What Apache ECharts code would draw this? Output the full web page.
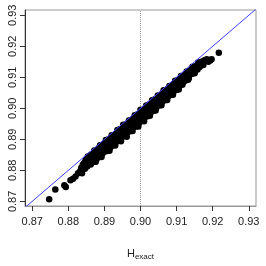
<!DOCTYPE html>
<html><head><meta charset="utf-8">
<script src="https://cdn.jsdelivr.net/npm/echarts@6/dist/echarts.min.js"></script>
<style>html,body{margin:0;padding:0;background:#fff}#c{width:266px;height:266px}</style>
</head><body><div id="c"></div>
<script>
const xRange = [0.868, 0.932];
const yRange = [0.8685, 0.9317];
const xTicks = [0.87, 0.88, 0.89, 0.90, 0.91, 0.92, 0.93];
const yTicks = [0.87, 0.88, 0.89, 0.90, 0.91, 0.92, 0.93];
const refX = 0.90;
const diag = [[0.868, 0.868], [0.932, 0.932]];
const points = [
[0.8747,0.8707],[0.8764,0.8738],[0.8789,0.8752],[0.8793,0.8746],[0.8806,0.8768],[0.8813,0.8773],[0.8820,0.8780],[0.8827,0.8791],[0.8833,0.8798],[0.8836,0.8808],
[0.8840,0.8818],[0.8843,0.8809],[0.8838,0.8791],
[0.8848,0.8833],[0.8851,0.8822],[0.8846,0.8805],
[0.8856,0.8832],[0.8859,0.8822],[0.8854,0.8845],
[0.8864,0.8851],[0.8866,0.8838],[0.8862,0.8819],
[0.8872,0.8864],[0.8874,0.8853],[0.8870,0.8835],[0.8876,0.8828],
[0.8880,0.8864],[0.8883,0.8853],[0.8878,0.8836],
[0.8888,0.8881],[0.8890,0.8868],[0.8886,0.8850],[0.8892,0.8843],
[0.8896,0.8883],[0.8899,0.8872],[0.8894,0.8853],
[0.8904,0.8898],[0.8906,0.8887],[0.8902,0.8869],[0.8908,0.8862],
[0.8912,0.8900],[0.8915,0.8890],[0.8910,0.8871],[0.8914,0.8863],
[0.8920,0.8913],[0.8922,0.8904],[0.8918,0.8887],[0.8924,0.8880],
[0.8928,0.8914],[0.8931,0.8905],[0.8926,0.8888],[0.8930,0.8880],
[0.8936,0.8930],[0.8938,0.8918],[0.8934,0.8901],[0.8940,0.8895],
[0.8944,0.8933],[0.8947,0.8923],[0.8942,0.8905],[0.8946,0.8894],
[0.8952,0.8947],[0.8954,0.8937],[0.8950,0.8920],[0.8956,0.8913],
[0.8960,0.8948],[0.8963,0.8937],[0.8958,0.8918],[0.8962,0.8908],
[0.8968,0.8961],[0.8970,0.8951],[0.8966,0.8934],[0.8972,0.8926],
[0.8976,0.8963],[0.8979,0.8954],[0.8974,0.8936],[0.8978,0.8927],
[0.8984,0.8978],[0.8986,0.8966],[0.8982,0.8948],[0.8988,0.8941],
[0.8992,0.8981],[0.8995,0.8968],[0.8990,0.8950],[0.8994,0.8941],
[0.9000,0.8995],[0.9002,0.8984],[0.8998,0.8967],[0.9004,0.8959],
[0.9008,0.8995],[0.9011,0.8986],[0.9006,0.8967],[0.9010,0.8958],
[0.9016,0.9009],[0.9018,0.8999],[0.9014,0.8981],[0.9020,0.8974],
[0.9024,0.9012],[0.9027,0.9001],[0.9022,0.8984],[0.9026,0.8976],
[0.9032,0.9026],[0.9034,0.9014],[0.9030,0.8998],[0.9036,0.8992],
[0.9040,0.9029],[0.9043,0.9019],[0.9038,0.9001],[0.9042,0.8993],
[0.9048,0.9041],[0.9050,0.9032],[0.9046,0.9015],[0.9052,0.9009],
[0.9056,0.9043],[0.9059,0.9034],[0.9054,0.9017],[0.9058,0.9010],
[0.9064,0.9058],[0.9066,0.9047],[0.9062,0.9031],[0.9068,0.9026],
[0.9072,0.9060],[0.9075,0.9051],[0.9070,0.9034],[0.9074,0.9027],
[0.9080,0.9072],[0.9082,0.9063],[0.9078,0.9048],[0.9084,0.9043],
[0.9088,0.9074],[0.9091,0.9066],[0.9086,0.9050],[0.9090,0.9044],
[0.9096,0.9089],[0.9098,0.9079],[0.9094,0.9064],[0.9100,0.9060],
[0.9104,0.9091],[0.9107,0.9083],[0.9102,0.9067],[0.9106,0.9061],
[0.9112,0.9104],[0.9114,0.9095],[0.9110,0.9081],[0.9116,0.9076],
[0.9120,0.9106],[0.9123,0.9098],[0.9118,0.9083],
[0.9128,0.9119],[0.9130,0.9110],[0.9126,0.9095],[0.9132,0.9092],
[0.9136,0.9121],[0.9139,0.9113],[0.9134,0.9098],
[0.9144,0.9134],[0.9146,0.9125],[0.9142,0.9111],
[0.9152,0.9136],[0.9155,0.9128],[0.9150,0.9113],
[0.9160,0.9148],[0.9162,0.9139],[0.9158,0.9125],
[0.9168,0.9150],[0.9171,0.9142],
[0.9176,0.9154],[0.9174,0.9140],
[0.9184,0.9158],[0.9188,0.9150],[0.9193,0.9154],[0.9197,0.9158],[0.9217,0.9179]
];
const pointsB = [
[0.8844,0.8824],[0.8844,0.8812],
[0.8852,0.8838],[0.8852,0.8824],[0.8852,0.8812],
[0.8860,0.8848],[0.8860,0.8834],[0.8860,0.8822],
[0.8868,0.8853],[0.8868,0.8841],[0.8868,0.8827],
[0.8876,0.8864],[0.8876,0.8850],[0.8876,0.8837],
[0.8884,0.8871],[0.8884,0.8857],[0.8884,0.8842],
[0.8892,0.8880],[0.8892,0.8864],[0.8892,0.8852],
[0.8900,0.8887],[0.8900,0.8875],[0.8900,0.8860],
[0.8908,0.8897],[0.8908,0.8881],[0.8908,0.8868],
[0.8916,0.8903],[0.8916,0.8890],[0.8916,0.8873],
[0.8924,0.8912],[0.8924,0.8899],[0.8924,0.8885],
[0.8932,0.8919],[0.8932,0.8905],[0.8932,0.8891],
[0.8940,0.8928],[0.8940,0.8914],[0.8940,0.8900],
[0.8948,0.8934],[0.8948,0.8920],[0.8948,0.8905],
[0.8956,0.8945],[0.8956,0.8931],[0.8956,0.8918],
[0.8964,0.8951],[0.8964,0.8937],[0.8964,0.8923],
[0.8972,0.8960],[0.8972,0.8946],[0.8972,0.8932],
[0.8980,0.8967],[0.8980,0.8953],[0.8980,0.8939],
[0.8988,0.8976],[0.8988,0.8963],[0.8988,0.8949],
[0.8996,0.8982],[0.8996,0.8968],[0.8996,0.8953],
[0.9004,0.8993],[0.9004,0.8978],[0.9004,0.8964],
[0.9012,0.8999],[0.9012,0.8985],[0.9012,0.8971],
[0.9020,0.9008],[0.9020,0.8995],[0.9020,0.8981],
[0.9028,0.9015],[0.9028,0.9001],[0.9028,0.8986],
[0.9036,0.9024],[0.9036,0.9010],[0.9036,0.8996],
[0.9044,0.9031],[0.9044,0.9017],[0.9044,0.9003],
[0.9052,0.9040],[0.9052,0.9027],[0.9052,0.9014],
[0.9060,0.9047],[0.9060,0.9034],[0.9060,0.9020],
[0.9068,0.9056],[0.9068,0.9043],[0.9068,0.9031],
[0.9076,0.9063],[0.9076,0.9050],[0.9076,0.9037],
[0.9084,0.9072],[0.9084,0.9060],[0.9084,0.9048],
[0.9092,0.9079],[0.9092,0.9067],[0.9092,0.9054],
[0.9100,0.9088],[0.9100,0.9076],[0.9100,0.9065],
[0.9108,0.9095],[0.9108,0.9083],[0.9108,0.9072],
[0.9116,0.9102],[0.9116,0.9090],
[0.9124,0.9111],[0.9124,0.9100],[0.9124,0.9089],
[0.9132,0.9118],[0.9132,0.9106],
[0.9140,0.9124],[0.9140,0.9113],
[0.9148,0.9132],[0.9148,0.9120],
[0.9156,0.9138],[0.9156,0.9126],
[0.9164,0.9144],[0.9164,0.9133],
[0.9180,0.9156]
];

const FONT = '"Liberation Sans", Arial, sans-serif';
const chart = echarts.init(document.getElementById('c'), null, {renderer: 'canvas'});
chart.setOption({
  animation: false,
  grid: {left: 25, top: 10, width: 231, height: 213, show: true, borderColor: '#999', borderWidth: 1, backgroundColor: 'transparent'},
  xAxis: {
    type: 'value', min: xRange[0], max: xRange[1],
    splitLine: {show: false},
    axisLine: {show: true, onZero: false, lineStyle: {color: '#999', width: 1}},
    axisTick: {show: true, inside: false, length: 5, customValues: xTicks, lineStyle: {color: '#333'}},
    axisLabel: {customValues: xTicks, margin: 10, fontSize: 11, color: '#222', fontFamily: FONT,
      formatter: v => v.toFixed(2)},
    name: 'H{sub|exact}', nameLocation: 'middle', nameGap: 40,
    nameTextStyle: {fontSize: 11, color: '#222', fontFamily: FONT,
      rich: {sub: {fontSize: 8, color: '#222', fontFamily: FONT, padding: [7, 0, 0, 0]}}}
  },
  yAxis: {
    type: 'value', min: yRange[0], max: yRange[1],
    splitLine: {show: false},
    axisLine: {show: true, onZero: false, lineStyle: {color: '#333', width: 1}},
    axisTick: {show: true, inside: false, length: 5, customValues: yTicks, lineStyle: {color: '#333'}},
    axisLabel: {customValues: yTicks, margin: 7, rotate: 90, fontSize: 11, color: '#222', fontFamily: FONT,
      formatter: v => v.toFixed(2)}
  },
  series: [
    {
      type: 'line', data: [], z: 1,
      markLine: {silent: true, symbol: 'none', label: {show: false}, z: 1,
        lineStyle: {color: '#999', type: 'dotted', width: 1},
        data: [{xAxis: refX}]}
    },
    {
      type: 'scatter', data: points.concat(pointsB), symbol: 'circle', symbolSize: 6.5,
      itemStyle: {color: '#000', opacity: 1, borderWidth: 0}, z: 2
    },
    {
      type: 'line', data: diag, symbol: 'none', clip: true,
      lineStyle: {color: '#4040ff', width: 1}, z: 3
    }
  ]
});
</script></body></html>
